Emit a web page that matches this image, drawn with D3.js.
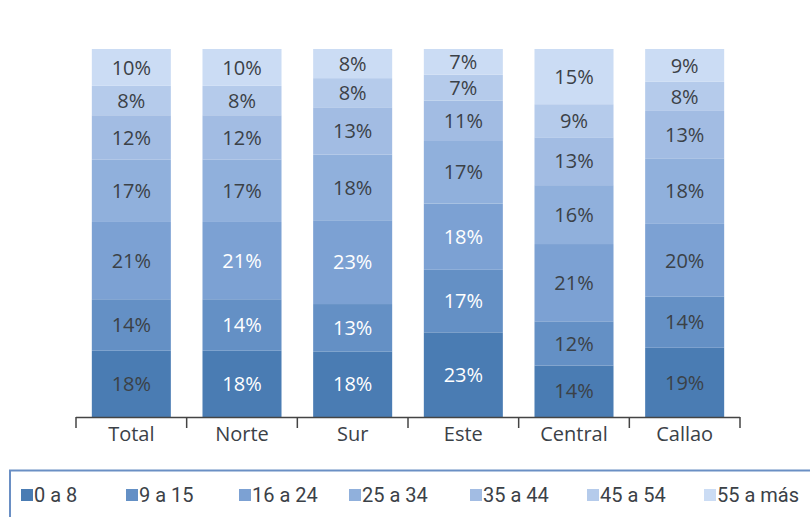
<!DOCTYPE html>
<html><head><meta charset="utf-8">
<script src="https://cdn.jsdelivr.net/npm/d3@7"></script>
<style>body{margin:0;background:#fff}svg{display:block}</style>
</head><body><svg id="c" width="810" height="517"></svg>
<script>
const categories = ["Total","Norte","Sur","Este","Central","Callao"];
const groups = ["0 a 8","9 a 15","16 a 24","25 a 34","35 a 44","45 a 54","55 a más"];
const v0a8   = [18,18,18,23,14,19];
const v9a15  = [14,14,13,17,12,14];
const v16a24 = [21,21,23,18,21,20];
const v25a34 = [17,17,18,17,16,18];
const v35a44 = [12,12,13,11,13,13];
const v45a54 = [8,8,8,7,9,8];
const v55    = [10,10,8,7,15,9];
const colors = ["#4a7cb3","#6490c5","#7ca1d3","#90b0dc","#a2bce3","#b5cbeb","#cbdcf4"];
const whiteLabelCats = ["Norte","Sur","Este"];

const series = [v0a8,v9a15,v16a24,v25a34,v35a44,v45a54,v55];
const rows = categories.map((c,i)=>{const r={cat:c};groups.forEach((g,j)=>r[g]=series[j][i]);return r;});
const stack = d3.stack().keys(groups).offset(d3.stackOffsetExpand)(rows);

const svg = d3.select("#c");
const x = d3.scaleBand().domain(categories).range([76,740]).paddingInner(0.286).paddingOuter(0.143);
const y = d3.scaleLinear().domain([0,1]).range([417,49]);
const color = d3.scaleOrdinal().domain(groups).range(colors);

const layer = svg.append("g").selectAll("g").data(stack).join("g").attr("fill",d=>color(d.key));
layer.selectAll("rect").data(d=>d).join("rect")
  .attr("x",d=>x(d.data.cat)).attr("width",x.bandwidth())
  .attr("y",d=>y(d[1])).attr("height",d=>y(d[0])-y(d[1]));

const lab = svg.append("g").style("font-family","'Open Sans',sans-serif").style("font-size","20px");
stack.forEach((s,j)=>{
  lab.selectAll(null).data(s).join("text")
    .attr("x",d=>x(d.data.cat)+x.bandwidth()/2)
    .attr("y",d=>(y(d[0])+y(d[1]))/2)
    .attr("dy","0.36em").attr("text-anchor","middle")
    .attr("fill",d=>(j<3 && whiteLabelCats.includes(d.data.cat))?"#ffffff":"#3b4147")
    .text(d=>d.data[s.key]+"%");
});

// axis
const ax = svg.append("g").attr("transform","translate(0,417)")
  .call(d3.axisBottom(x).tickSize(0).tickPadding(10));
ax.select(".domain").remove();
ax.selectAll("text").style("font-family","'Open Sans',sans-serif").style("font-size","20px").attr("fill","#3b4147");
const [r0,r1] = x.range();
svg.append("line").attr("x1",r0).attr("x2",r1).attr("y1",417.5).attr("y2",417.5).attr("stroke","#444").attr("stroke-width",1.5);
const bounds = d3.range(categories.length+1).map(i=>r0+i*x.step());
svg.append("g").selectAll("line").data(bounds).join("line")
  .attr("x1",d=>d).attr("x2",d=>d).attr("y1",417).attr("y2",428)
  .attr("stroke","#444").attr("stroke-width",1.5);

// legend
svg.append("rect").attr("x",10).attr("y",470.5).attr("width",820).attr("height",80)
  .attr("fill","none").attr("stroke","#6a8fc4").attr("stroke-width",2);
const legX = [21,126,239,349,470,587,704];
const lg = svg.append("g").selectAll("g").data(groups).join("g")
  .attr("transform",(d,i)=>`translate(${legX[i]},489)`);
lg.append("rect").attr("width",12).attr("height",12).attr("fill",d=>color(d));
lg.append("text").attr("x",13).attr("y",12.5).text(d=>d)
  .style("font-family","Roboto,sans-serif").style("font-size","20px").attr("fill","#3b4147");
</script></body></html>
